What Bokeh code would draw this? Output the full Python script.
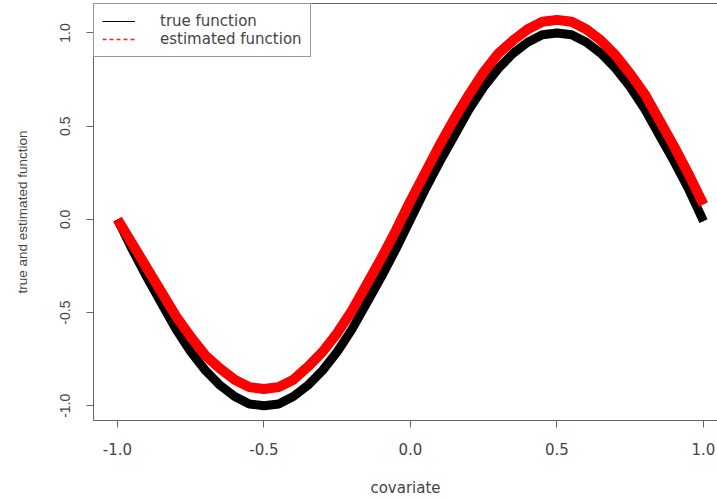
from bokeh.plotting import figure
from bokeh.models import (Range1d, FixedTicker, LinearAxis, Legend, LegendItem,
                          ColumnDataSource)
from bokeh.embed import file_html
from bokeh.resources import INLINE

# ---- data ----
covariate = [-1.00, -0.95, -0.90, -0.85, -0.80, -0.75, -0.70, -0.65, -0.60, -0.55,
             -0.50, -0.45, -0.40, -0.35, -0.30, -0.25, -0.20, -0.15, -0.10, -0.05,
             0.00, 0.05, 0.10, 0.15, 0.20, 0.25, 0.30, 0.35, 0.40, 0.45,
             0.50, 0.55, 0.60, 0.65, 0.70, 0.75, 0.80, 0.85, 0.90, 0.95, 1.00]
true_function = [0.00, -0.16, -0.31, -0.45, -0.59, -0.71, -0.81, -0.89, -0.95, -0.99,
                 -1.00, -0.99, -0.95, -0.89, -0.81, -0.71, -0.59, -0.45, -0.31, -0.16,
                 0.00, 0.16, 0.31, 0.45, 0.59, 0.71, 0.81, 0.89, 0.95, 0.99,
                 1.00, 0.99, 0.95, 0.89, 0.81, 0.71, 0.59, 0.45, 0.31, 0.16, -0.01]
estimated_function = [0.00, -0.13, -0.26, -0.39, -0.52, -0.63, -0.73, -0.80, -0.86, -0.90,
                      -0.91, -0.90, -0.86, -0.79, -0.71, -0.61, -0.49, -0.35, -0.21, -0.06,
                      0.10, 0.25, 0.40, 0.54, 0.67, 0.79, 0.89, 0.96, 1.02, 1.06,
                      1.07, 1.06, 1.02, 0.96, 0.88, 0.78, 0.67, 0.53, 0.39, 0.24, 0.08]

x_ticks = [-1.0, -0.5, 0.0, 0.5, 1.0]
x_tick_labels = ["-1.0", "-0.5", "0.0", "0.5", "1.0"]
y_ticks = [-1.0, -0.5, 0.0, 0.5, 1.0]
y_tick_labels = ["-1.0", "-0.5", "0.0", "0.5", "1.0"]
legend_labels = ["true function", "estimated function"]
x_title = "covariate"
y_title = "true and estimated function"

AXIS_COLOR = "#666666"
TEXT_COLOR = "#444444"

p = figure(width=717, height=499, output_backend="svg", toolbar_location=None,
           x_range=Range1d(-1.0819, 1.0478), y_range=Range1d(-1.0789, 1.1579),
           min_border_left=93, min_border_bottom=71, min_border_top=3,
           min_border_right=0)
p.xaxis.visible = False
p.yaxis.visible = False
p.grid.visible = False
p.outline_line_color = None
p.background_fill_color = "white"
p.border_fill_color = "white"

src = ColumnDataSource(dict(x=covariate, t=true_function, e=estimated_function))

# thin legend-style lines, drawn first so the thick bands cover them
r_true = p.line("x", "t", source=src, line_color="black", line_width=1.2)
r_est = p.line("x", "e", source=src, line_color="#ff2020", line_width=1.6,
               line_dash="4 3")

p.line("x", "t", source=src, line_color="black", line_width=9, line_cap="butt")
p.line("x", "e", source=src, line_color="#ff0000", line_width=10, line_cap="butt")

xaxis = LinearAxis(ticker=FixedTicker(ticks=x_ticks),
                   major_label_overrides=dict(zip(x_ticks, x_tick_labels)),
                   axis_label=x_title)
yaxis = LinearAxis(ticker=FixedTicker(ticks=y_ticks),
                   major_label_overrides=dict(zip(y_ticks, y_tick_labels)),
                   axis_label=y_title, major_label_orientation="vertical")
topaxis = LinearAxis(ticker=FixedTicker(ticks=[]), major_label_text_font_size="0px",
                     major_tick_out=0, major_tick_in=0, minor_tick_out=0,
                     minor_tick_in=0, major_label_standoff=0,
                     axis_line_color=AXIS_COLOR)

for ax in (xaxis, yaxis):
    ax.axis_line_color = AXIS_COLOR
    ax.major_tick_line_color = AXIS_COLOR
    ax.major_tick_out = 7
    ax.major_tick_in = 0
    ax.minor_tick_line_color = None
    ax.major_label_text_color = TEXT_COLOR
    ax.axis_label_text_color = TEXT_COLOR
    ax.axis_label_text_font_style = "normal"

xaxis.major_label_text_font = "DejaVu Sans"
xaxis.major_label_text_font_size = "15px"
xaxis.major_label_standoff = 15
xaxis.axis_label_text_font = "DejaVu Sans"
xaxis.axis_label_text_font_size = "15px"
xaxis.axis_label_standoff = 21

yaxis.major_label_text_font = "Liberation Sans"
yaxis.major_label_text_font_size = "14px"
yaxis.major_label_standoff = 16
yaxis.axis_label_text_font = "Liberation Sans"
yaxis.axis_label_text_font_size = "13.5px"
yaxis.axis_label_standoff = 28

p.add_layout(xaxis, "below")
p.add_layout(yaxis, "left")
p.add_layout(topaxis, "above")

legend = Legend(items=[LegendItem(label=legend_labels[0], renderers=[r_true]),
                       LegendItem(label=legend_labels[1], renderers=[r_est])],
                location="top_left", margin=0, padding=8, spacing=0,
                glyph_width=33, glyph_height=16, label_height=16,
                label_standoff=25, label_text_font="DejaVu Sans",
                label_text_font_size="15px", label_text_color=TEXT_COLOR,
                border_line_color="#333333", border_line_width=1,
                background_fill_color="white", background_fill_alpha=1)
p.add_layout(legend, "center")

open("out.html", "w").write(file_html(p, INLINE))
